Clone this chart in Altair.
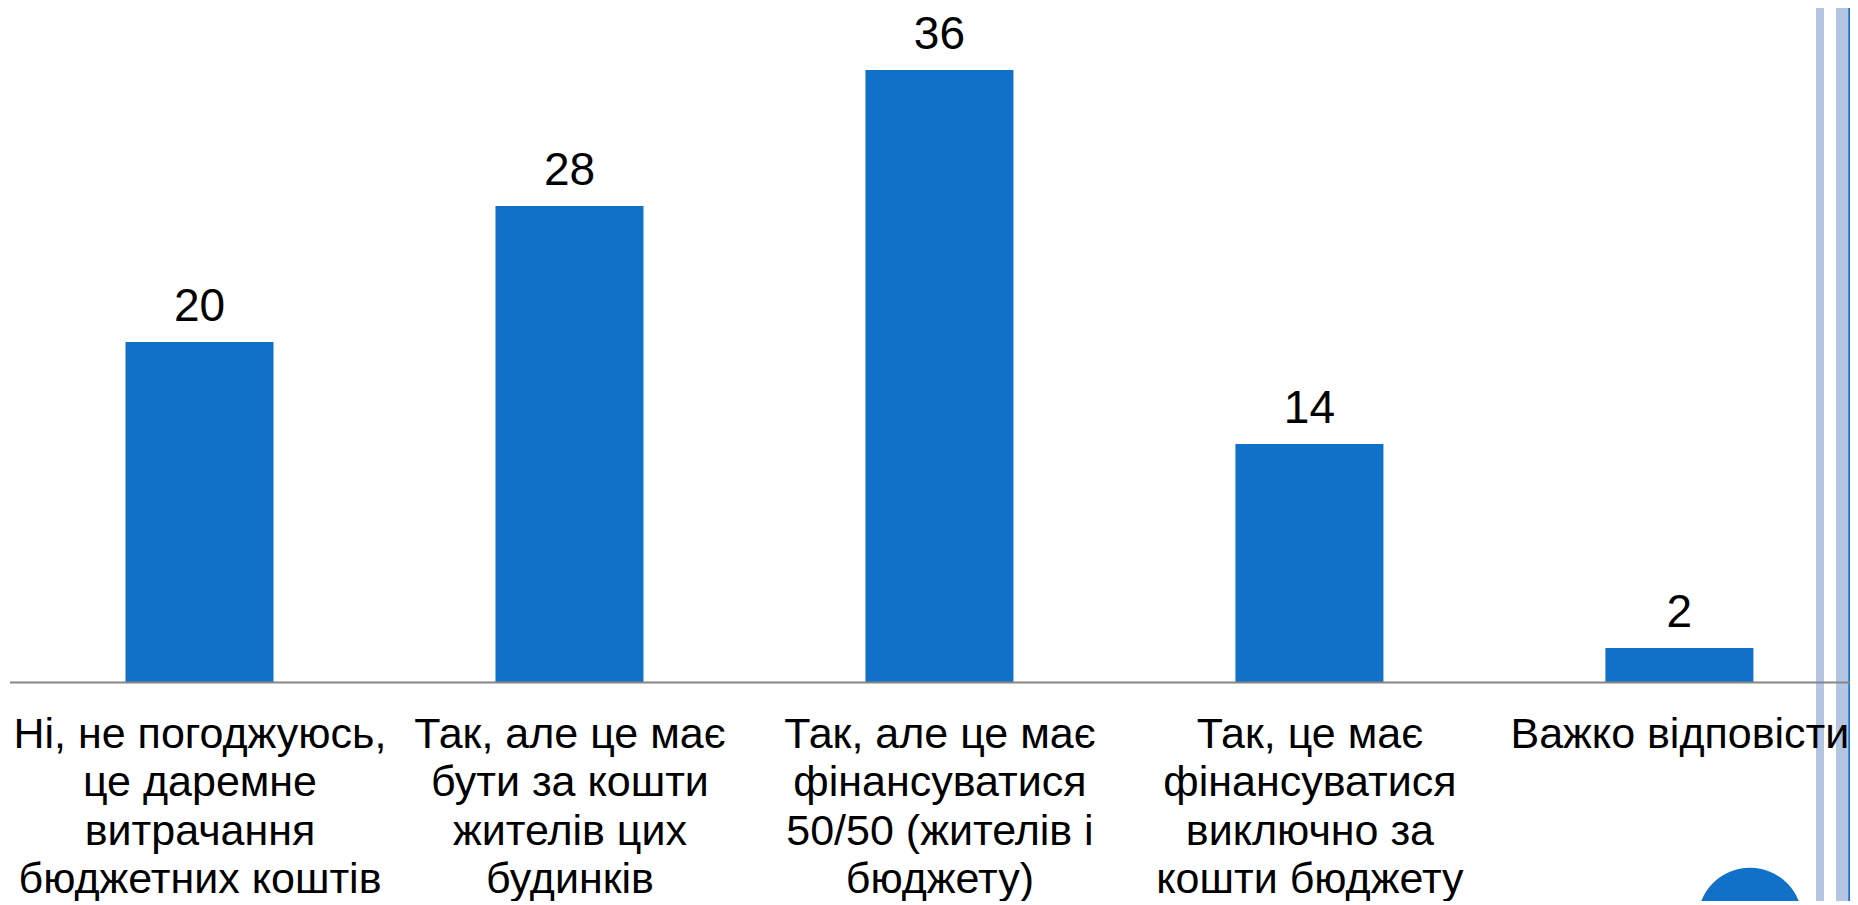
import altair as alt
import pandas as pd

# ---- data ----
categories = [
    "Ні, не погоджуюсь,|це даремне|витрачання|бюджетних коштів",
    "Так, але це має|бути за кошти|жителів цих|будинків",
    "Так, але це має|фінансуватися|50/50 (жителів і|бюджету)",
    "Так, це має|фінансуватися|виключно за|кошти бюджету",
    "Важко відповісти",
]
values = [20, 28, 36, 14, 2]
positions = [0, 1, 2, 3, 4]

df = pd.DataFrame({"pos": positions, "value": values, "label": categories})

BAR_COLOR = "#1170C7"
STRIPE_COLOR = "#B4C5E4"
FONT = "Liberation Sans"

TOTAL_W = 1842
TOTAL_H = 893
PAD_LEFT = 1.5
PLOT_W = TOTAL_W - PAD_LEFT
PLOT_H = 674
STEP = 372.0
x_dom = [-0.5, -0.5 + PLOT_W / STEP]
y_dom = [0, PLOT_H / 17.0]

label_expr = "split([" + ",".join("'" + c + "'" for c in categories) + "][datum.value], '|')"

x_enc = alt.X(
    "pos:Q",
    scale=alt.Scale(domain=x_dom, nice=False, zero=False),
    axis=alt.Axis(
        values=positions,
        labelExpr=label_expr,
        ticks=False,
        tickSize=0,
        grid=False,
        domainColor="#868686",
        domainWidth=2,
        labelFont=FONT,
        labelFontSize=43,
        labelColor="#000000",
        labelLineHeight=48.6,
        labelPadding=31,
        labelLimit=0,
        labelFlush=False,
        labelOverlap=False,
        labelBound=False,
        labelAlign="center",
        title=None,
        zindex=1,
    ),
)
y_enc = alt.Y("value:Q", scale=alt.Scale(domain=y_dom, nice=False), axis=None)

one = alt.Data(values=[{"k": 1}])

# slide decoration on the right edge (drawn first, behind everything)
stripe1 = alt.Chart(one).mark_rect(color=STRIPE_COLOR).encode(
    x=alt.value(1806.5), x2=alt.value(1814.5), y=alt.value(-8), y2=alt.value(900)
)
stripe2 = alt.Chart(one).mark_rect(color=STRIPE_COLOR).encode(
    x=alt.value(1826.5), x2=alt.value(1848.5), y=alt.value(-8), y2=alt.value(900)
)
dark_line = alt.Chart(one).mark_rect(color="#1D6FC8").encode(
    x=alt.value(1838.8), x2=alt.value(1840.5), y=alt.value(-8), y2=alt.value(900)
)

base = alt.Chart(df)

bars = base.mark_bar(size=148, color=BAR_COLOR).encode(x=x_enc, y=y_enc)

value_labels = base.mark_text(
    dy=-21, baseline="alphabetic", align="center",
    fontSize=46, font=FONT, color="#000000",
).encode(x=alt.X("pos:Q"), y=alt.Y("value:Q"), text=alt.Text("value:Q"))

circle = alt.Chart(one).mark_point(
    shape="circle", filled=True, size=10936, color=BAR_COLOR, opacity=1
).encode(x=alt.value(1740.5), y=alt.value(912))

chart = alt.layer(stripe1, stripe2, dark_line, bars, value_labels, circle).properties(
    width=PLOT_W,
    height=PLOT_H,
    autosize=alt.AutoSizeParams(type="none"),
    padding={"left": PAD_LEFT, "top": 0, "right": 0, "bottom": TOTAL_H - PLOT_H},
    background="#FFFFFF",
).configure_view(stroke=None)

chart.save("out.html", embed_options={"renderer": "svg", "actions": False})
